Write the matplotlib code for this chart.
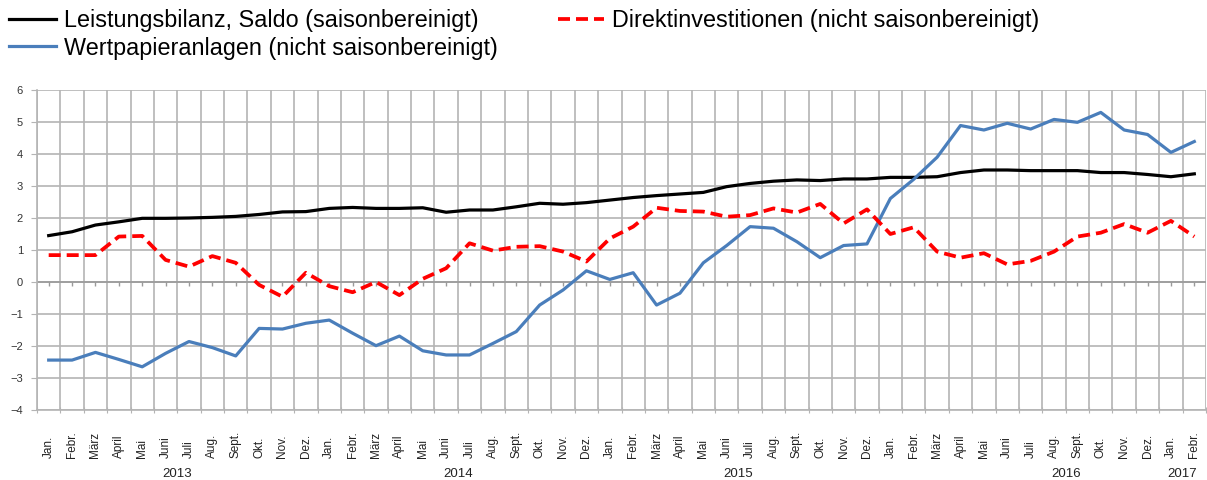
import numpy as np
import matplotlib.pyplot as plt

plt.rcParams['font.family'] = ['Liberation Sans', 'DejaVu Sans']

months = ["Jan.", "Febr.", "März", "April", "Mai", "Juni", "Juli", "Aug.",
          "Sept.", "Okt.", "Nov.", "Dez."]
month_labels = months * 4 + months[:2]
years = ["2013", "2014", "2015", "2016", "2017"]
year_pos = [5.5, 17.5, 29.5, 43.5, 48.5]

leistungsbilanz = [1.45, 1.57, 1.78, 1.88, 1.99, 1.99, 2.0, 2.02, 2.05, 2.11, 2.19, 2.2,
                   2.3, 2.33, 2.3, 2.3, 2.32, 2.18, 2.25, 2.25, 2.35, 2.46, 2.43, 2.48,
                   2.56, 2.64, 2.7, 2.75, 2.8, 2.98, 3.08, 3.15, 3.19, 3.17, 3.22, 3.22,
                   3.27, 3.27, 3.29, 3.42, 3.5, 3.5, 3.48, 3.48, 3.48, 3.42, 3.42, 3.36,
                   3.29, 3.38]
direktinv = [0.84, 0.84, 0.84, 1.42, 1.44, 0.69, 0.48, 0.81, 0.6, -0.09, -0.46, 0.29,
             -0.13, -0.32, 0.0, -0.41, 0.1, 0.43, 1.21, 0.98, 1.1, 1.12, 0.95, 0.64,
             1.36, 1.73, 2.32, 2.22, 2.2, 2.04, 2.09, 2.3, 2.17, 2.44, 1.83, 2.27,
             1.5, 1.71, 0.95, 0.76, 0.9, 0.55, 0.66, 0.95, 1.42, 1.54, 1.81, 1.54,
             1.91, 1.42]
wertpapier = [-2.44, -2.44, -2.2, -2.42, -2.65, -2.23, -1.86, -2.05, -2.31, -1.45, -1.47, -1.29,
              -1.19, -1.6, -1.99, -1.69, -2.15, -2.28, -2.28, -1.92, -1.55, -0.72, -0.25, 0.35,
              0.08, 0.29, -0.72, -0.35, 0.6, 1.14, 1.73, 1.68, 1.26, 0.76, 1.14, 1.19,
              2.61, 3.21, 3.9, 4.89, 4.75, 4.96, 4.78, 5.08, 4.99, 5.3, 4.75, 4.61,
              4.05, 4.39]

x = np.arange(len(month_labels))
grid_col = '#b4b4b4'

fig = plt.figure(figsize=(12.07, 4.8), dpi=100)
ax = fig.add_axes([37 / 1207, 1 - 410 / 480, 1169 / 1207, 320 / 480])

l1, = ax.plot(x, leistungsbilanz, color='#000000', lw=2.3,
              label='Leistungsbilanz, Saldo (saisonbereinigt)')
l3, = ax.plot(x, wertpapier, color='#4a7ebb', lw=2.3,
              label='Wertpapieranlagen (nicht saisonbereinigt)')
l2, = ax.plot(x, direktinv, color='#ff0000', lw=2.7, dashes=(3.2, 1.6),
              label='Direktinvestitionen (nicht saisonbereinigt)')

ax.set_xlim(-0.5, len(x) - 0.5)
ax.set_ylim(-4, 6)
ax.set_yticks(range(-4, 7))
ax.set_xticks(np.arange(len(x) + 1) - 0.5)
ax.set_xticklabels([])
ax.tick_params(axis='x', length=4, color=grid_col, direction='inout')
ax.tick_params(axis='y', length=4, color=grid_col, labelsize=8, labelcolor='#333333', pad=6)
ax.grid(True, color=grid_col, lw=1.2)
ax.set_axisbelow(True)
for s in ['top', 'right']:
    ax.spines[s].set_visible(False)
for s in ['left', 'bottom']:
    ax.spines[s].set_color(grid_col)
    ax.spines[s].set_linewidth(1.2)

# zero axis with small tick marks
ax.axhline(0, color='#9a9a9a', lw=1.2, zorder=1)
ax.plot(x, np.zeros(len(x)), ls='none', marker=3, ms=3, color='#9a9a9a', zorder=1)

for i, lab in enumerate(month_labels):
    ax.text(i, -0.15, lab, rotation=90, ha='center', va='bottom', fontsize=8.5,
            color='#222222', transform=ax.get_xaxis_transform())
for yp, yl in zip(year_pos, years):
    ax.text(yp, -0.2, yl, ha='center', va='center', fontsize=9.5,
            color='#222222', transform=ax.get_xaxis_transform())

fig.legend(handles=[l1, l3, l2], loc='upper left', bbox_to_anchor=(0.0, 1.0),
           ncol=2, frameon=False, fontsize=16.8, handlelength=2.0,
           handletextpad=0.35, columnspacing=2.55, labelspacing=0.18,
           borderaxespad=0.1, borderpad=0.3)

fig.savefig('out.png', dpi=100)
